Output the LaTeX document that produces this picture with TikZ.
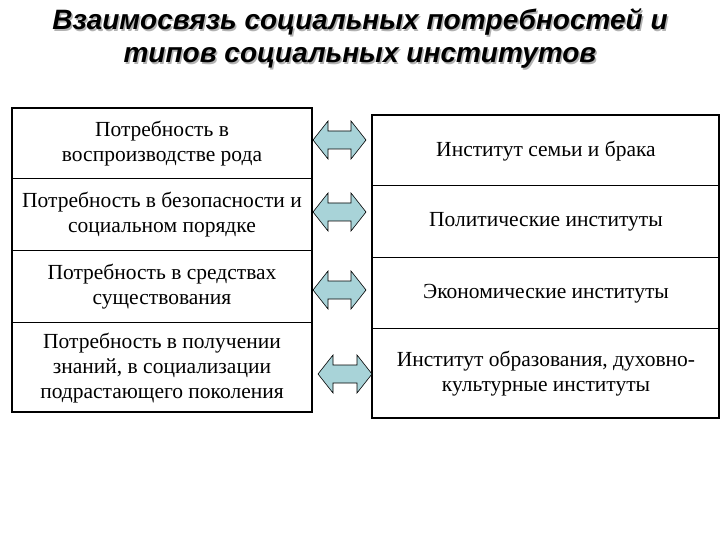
\documentclass[tikz,border=0pt]{standalone}
\usepackage{fontspec}
\setmainfont{Liberation Serif}
\newfontfamily\titlefont{Liberation Sans}
\definecolor{arr}{HTML}{A8D3D8}
\begin{document}
\begin{tikzpicture}[x=1pt,y=-1pt,
  txt/.style={align=center,font=\fontsize{21.5}{25}\selectfont,inner sep=0pt},
  ttl/.style={align=center,font=\titlefont\bfseries\itshape\fontsize{28}{33}\selectfont,inner sep=0pt},
  box/.style={draw,line width=1.6pt},
  cell/.style={draw,line width=0.6pt}]
\useasboundingbox (0,0) rectangle (720,540);
\newcommand\dblarrow[3]{% x1 x2 yc
  \fill[draw=black,line width=0.6pt,fill=arr] (#1,#3) -- (#1+15,#3-19) -- (#1+15,#3-9) -- (#2-15,#3-9) -- (#2-15,#3-19) -- (#2,#3) -- (#2-15,#3+19) -- (#2-15,#3+9) -- (#1+15,#3+9) -- (#1+15,#3+19) -- cycle;}
\node[ttl,text=gray!60] at (361.5,40) {Взаимосвязь социальных потребностей и\\типов социальных институтов};
\node[ttl] (title) at (360,38.5) {Взаимосвязь социальных потребностей и\\типов социальных институтов};
% left
\draw[cell] (12,178) -- (312,178) (12,250) -- (312,250) (12,322) -- (312,322);
\draw[box] (12,108) rectangle (312,412);
% right
\draw[cell] (372,185) -- (720,185) (372,257) -- (720,257) (372,328) -- (720,328);
\draw[box] (372,115) -- (719,115) -- (719,418) -- (372,418) -- cycle;
\node[txt] (l1) at (162,144) {Потребность в\\воспроизводстве рода};
\node[txt] (l2) at (162,215) {Потребность в безопасности и\\социальном порядке};
\node[txt] (l3) at (162,287) {Потребность в средствах\\существования};
\node[txt] (l4) at (162,368) {Потребность в получении\\знаний, в социализации\\подрастающего поколения};
\node[txt] (r1) at (546,151) {Институт семьи и брака};
\node[txt] (r2) at (546,222) {Политические институты};
\node[txt] (r3) at (546,294) {Экономические институты};
\node[txt] (r4) at (546,374) {Институт образования, духовно-\\культурные институты};
\dblarrow{313}{366}{140}
\dblarrow{313}{366}{212}
\dblarrow{313}{366}{290}
\dblarrow{318}{372}{374}
\end{tikzpicture}
\end{document}
